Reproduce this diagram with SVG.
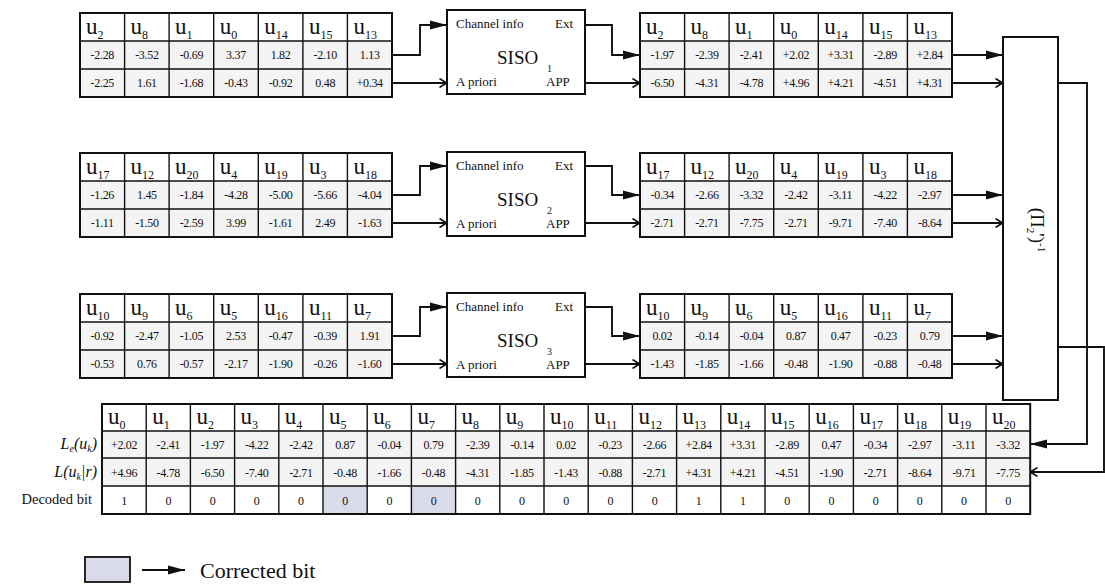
<svg xmlns="http://www.w3.org/2000/svg" xmlns:xlink="http://www.w3.org/1999/xlink" width="1105" height="586" viewBox="0 0 1105 586">
<style>
text{font-family:"Liberation Serif","Times New Roman",serif;fill:#111}
.h{font-size:23px}
.sb{font-size:12px}
.v{font-size:12px;text-anchor:middle;letter-spacing:-0.3px}
.sm{font-size:13px}
.ln{fill:none;stroke:#111;stroke-width:1.9}
.box{fill:#fff;stroke:#111;stroke-width:2}
.lab{font-size:16px;font-style:italic;text-anchor:end}
</style>
<defs>
<marker id="fa" viewBox="0 0 17 10" refX="17" refY="5" markerWidth="17" markerHeight="10" markerUnits="userSpaceOnUse" orient="auto"><path d="M0,0.5L17,5L0,9.5z" fill="#111"/></marker>
<marker id="oa" viewBox="0 0 8 10" refX="8" refY="5" markerWidth="8" markerHeight="10" markerUnits="userSpaceOnUse" orient="auto"><path d="M0.5,0.5L7.5,5L0.5,9.5" fill="none" stroke="#111" stroke-width="1.6"/></marker>
<g id="grid7">
<rect x="0" y="28" width="312" height="56" fill="#f4f4f4"/>
<path d="M44.6,0V84M89.1,0V84M133.7,0V84M178.3,0V84M222.9,0V84M267.4,0V84M0,28H312M0,56H312" fill="none" stroke="#111" stroke-width="1.4"/>
<rect x="0" y="0" width="312" height="84" fill="none" stroke="#111" stroke-width="2"/>
</g>
<g id="siso">
<rect class="box" x="0" y="0" width="138" height="84"/>
<text class="sm" x="9" y="18">Channel info</text>
<text class="sm" x="108" y="18">Ext</text>
<text class="sm" x="9" y="76">A priori</text>
<text class="sm" x="99" y="76">APP</text>
</g>
</defs>

<!-- Row 1 -->
<g id="t1in" transform="translate(80,13)">
<use xlink:href="#grid7"/>
<text class="h" x="6" y="21">u<tspan class="sb" dy="5">2</tspan></text>
<text class="h" x="50.6" y="21">u<tspan class="sb" dy="5">8</tspan></text>
<text class="h" x="95.1" y="21">u<tspan class="sb" dy="5">1</tspan></text>
<text class="h" x="139.7" y="21">u<tspan class="sb" dy="5">0</tspan></text>
<text class="h" x="184.3" y="21">u<tspan class="sb" dy="5">14</tspan></text>
<text class="h" x="228.9" y="21">u<tspan class="sb" dy="5">15</tspan></text>
<text class="h" x="273.4" y="21">u<tspan class="sb" dy="5">13</tspan></text>
<text class="v" x="22.3" y="46">-2.28</text><text class="v" x="66.9" y="46">-3.52</text><text class="v" x="111.4" y="46">-0.69</text><text class="v" x="156" y="46">3.37</text><text class="v" x="200.6" y="46">1.82</text><text class="v" x="245.2" y="46">-2.10</text><text class="v" x="289.7" y="46">1.13</text>
<text class="v" x="22.3" y="74">-2.25</text><text class="v" x="66.9" y="74">1.61</text><text class="v" x="111.4" y="74">-1.68</text><text class="v" x="156" y="74">-0.43</text><text class="v" x="200.6" y="74">-0.92</text><text class="v" x="245.2" y="74">0.48</text><text class="v" x="289.7" y="74">+0.34</text>
</g>
<g id="siso1" transform="translate(447,10)">
<use xlink:href="#siso"/>
<text x="50" y="54" font-size="19">SISO</text><text x="100" y="62" font-size="10">1</text>
</g>
<g id="t1out" transform="translate(640,13)">
<use xlink:href="#grid7"/>
<text class="h" x="6" y="21">u<tspan class="sb" dy="5">2</tspan></text>
<text class="h" x="50.6" y="21">u<tspan class="sb" dy="5">8</tspan></text>
<text class="h" x="95.1" y="21">u<tspan class="sb" dy="5">1</tspan></text>
<text class="h" x="139.7" y="21">u<tspan class="sb" dy="5">0</tspan></text>
<text class="h" x="184.3" y="21">u<tspan class="sb" dy="5">14</tspan></text>
<text class="h" x="228.9" y="21">u<tspan class="sb" dy="5">15</tspan></text>
<text class="h" x="273.4" y="21">u<tspan class="sb" dy="5">13</tspan></text>
<text class="v" x="22.3" y="46">-1.97</text><text class="v" x="66.9" y="46">-2.39</text><text class="v" x="111.4" y="46">-2.41</text><text class="v" x="156" y="46">+2.02</text><text class="v" x="200.6" y="46">+3.31</text><text class="v" x="245.2" y="46">-2.89</text><text class="v" x="289.7" y="46">+2.84</text>
<text class="v" x="22.3" y="74">-6.50</text><text class="v" x="66.9" y="74">-4.31</text><text class="v" x="111.4" y="74">-4.78</text><text class="v" x="156" y="74">+4.96</text><text class="v" x="200.6" y="74">+4.21</text><text class="v" x="245.2" y="74">-4.51</text><text class="v" x="289.7" y="74">+4.31</text>
</g>

<!-- Row 2 -->
<g id="t2in" transform="translate(80,153)">
<use xlink:href="#grid7"/>
<text class="h" x="6" y="21">u<tspan class="sb" dy="5">17</tspan></text>
<text class="h" x="50.6" y="21">u<tspan class="sb" dy="5">12</tspan></text>
<text class="h" x="95.1" y="21">u<tspan class="sb" dy="5">20</tspan></text>
<text class="h" x="139.7" y="21">u<tspan class="sb" dy="5">4</tspan></text>
<text class="h" x="184.3" y="21">u<tspan class="sb" dy="5">19</tspan></text>
<text class="h" x="228.9" y="21">u<tspan class="sb" dy="5">3</tspan></text>
<text class="h" x="273.4" y="21">u<tspan class="sb" dy="5">18</tspan></text>
<text class="v" x="22.3" y="46">-1.26</text><text class="v" x="66.9" y="46">1.45</text><text class="v" x="111.4" y="46">-1.84</text><text class="v" x="156" y="46">-4.28</text><text class="v" x="200.6" y="46">-5.00</text><text class="v" x="245.2" y="46">-5.66</text><text class="v" x="289.7" y="46">-4.04</text>
<text class="v" x="22.3" y="74">-1.11</text><text class="v" x="66.9" y="74">-1.50</text><text class="v" x="111.4" y="74">-2.59</text><text class="v" x="156" y="74">3.99</text><text class="v" x="200.6" y="74">-1.61</text><text class="v" x="245.2" y="74">2.49</text><text class="v" x="289.7" y="74">-1.63</text>
</g>
<g id="siso2" transform="translate(447,152)">
<use xlink:href="#siso"/>
<text x="50" y="54" font-size="19">SISO</text><text x="100" y="62" font-size="10">2</text>
</g>
<g id="t2out" transform="translate(640,153)">
<use xlink:href="#grid7"/>
<text class="h" x="6" y="21">u<tspan class="sb" dy="5">17</tspan></text>
<text class="h" x="50.6" y="21">u<tspan class="sb" dy="5">12</tspan></text>
<text class="h" x="95.1" y="21">u<tspan class="sb" dy="5">20</tspan></text>
<text class="h" x="139.7" y="21">u<tspan class="sb" dy="5">4</tspan></text>
<text class="h" x="184.3" y="21">u<tspan class="sb" dy="5">19</tspan></text>
<text class="h" x="228.9" y="21">u<tspan class="sb" dy="5">3</tspan></text>
<text class="h" x="273.4" y="21">u<tspan class="sb" dy="5">18</tspan></text>
<text class="v" x="22.3" y="46">-0.34</text><text class="v" x="66.9" y="46">-2.66</text><text class="v" x="111.4" y="46">-3.32</text><text class="v" x="156" y="46">-2.42</text><text class="v" x="200.6" y="46">-3.11</text><text class="v" x="245.2" y="46">-4.22</text><text class="v" x="289.7" y="46">-2.97</text>
<text class="v" x="22.3" y="74">-2.71</text><text class="v" x="66.9" y="74">-2.71</text><text class="v" x="111.4" y="74">-7.75</text><text class="v" x="156" y="74">-2.71</text><text class="v" x="200.6" y="74">-9.71</text><text class="v" x="245.2" y="74">-7.40</text><text class="v" x="289.7" y="74">-8.64</text>
</g>

<!-- Row 3 -->
<g id="t3in" transform="translate(80,294)">
<use xlink:href="#grid7"/>
<text class="h" x="6" y="21">u<tspan class="sb" dy="5">10</tspan></text>
<text class="h" x="50.6" y="21">u<tspan class="sb" dy="5">9</tspan></text>
<text class="h" x="95.1" y="21">u<tspan class="sb" dy="5">6</tspan></text>
<text class="h" x="139.7" y="21">u<tspan class="sb" dy="5">5</tspan></text>
<text class="h" x="184.3" y="21">u<tspan class="sb" dy="5">16</tspan></text>
<text class="h" x="228.9" y="21">u<tspan class="sb" dy="5">11</tspan></text>
<text class="h" x="273.4" y="21">u<tspan class="sb" dy="5">7</tspan></text>
<text class="v" x="22.3" y="46">-0.92</text><text class="v" x="66.9" y="46">-2.47</text><text class="v" x="111.4" y="46">-1.05</text><text class="v" x="156" y="46">2.53</text><text class="v" x="200.6" y="46">-0.47</text><text class="v" x="245.2" y="46">-0.39</text><text class="v" x="289.7" y="46">1.91</text>
<text class="v" x="22.3" y="74">-0.53</text><text class="v" x="66.9" y="74">0.76</text><text class="v" x="111.4" y="74">-0.57</text><text class="v" x="156" y="74">-2.17</text><text class="v" x="200.6" y="74">-1.90</text><text class="v" x="245.2" y="74">-0.26</text><text class="v" x="289.7" y="74">-1.60</text>
</g>
<g id="siso3" transform="translate(447,293)">
<use xlink:href="#siso"/>
<text x="50" y="54" font-size="19">SISO</text><text x="100" y="62" font-size="10">3</text>
</g>
<g id="t3out" transform="translate(640,294)">
<use xlink:href="#grid7"/>
<text class="h" x="6" y="21">u<tspan class="sb" dy="5">10</tspan></text>
<text class="h" x="50.6" y="21">u<tspan class="sb" dy="5">9</tspan></text>
<text class="h" x="95.1" y="21">u<tspan class="sb" dy="5">6</tspan></text>
<text class="h" x="139.7" y="21">u<tspan class="sb" dy="5">5</tspan></text>
<text class="h" x="184.3" y="21">u<tspan class="sb" dy="5">16</tspan></text>
<text class="h" x="228.9" y="21">u<tspan class="sb" dy="5">11</tspan></text>
<text class="h" x="273.4" y="21">u<tspan class="sb" dy="5">7</tspan></text>
<text class="v" x="22.3" y="46">0.02</text><text class="v" x="66.9" y="46">-0.14</text><text class="v" x="111.4" y="46">-0.04</text><text class="v" x="156" y="46">0.87</text><text class="v" x="200.6" y="46">0.47</text><text class="v" x="245.2" y="46">-0.23</text><text class="v" x="289.7" y="46">0.79</text>
<text class="v" x="22.3" y="74">-1.43</text><text class="v" x="66.9" y="74">-1.85</text><text class="v" x="111.4" y="74">-1.66</text><text class="v" x="156" y="74">-0.48</text><text class="v" x="200.6" y="74">-1.90</text><text class="v" x="245.2" y="74">-0.88</text><text class="v" x="289.7" y="74">-0.48</text>
</g>

<!-- Deinterleaver -->
<g id="deinterleaver">
<rect class="box" x="1003" y="37" width="55" height="363"/>
<text transform="translate(1031,230) rotate(90)" text-anchor="middle" font-size="19">(Π<tspan font-size="11" dy="4">2</tspan><tspan dy="-4">')</tspan><tspan font-size="11" dy="-7">-1</tspan></text>
</g>

<!-- Bottom table -->
<g id="result" transform="translate(102,404)">
<rect x="0" y="27" width="928.2" height="55" fill="#f4f4f4"/>
<rect x="221" y="82" width="44.2" height="28" fill="#d9dbea"/>
<rect x="309.4" y="82" width="44.2" height="28" fill="#d9dbea"/>
<path d="M44.2,0V110M88.4,0V110M132.6,0V110M176.8,0V110M221,0V110M265.2,0V110M309.4,0V110M353.6,0V110M397.8,0V110M442,0V110M486.2,0V110M530.4,0V110M574.6,0V110M618.8,0V110M663,0V110M707.2,0V110M751.4,0V110M795.6,0V110M839.8,0V110M884,0V110M0,27H928.2M0,54H928.2M0,82H928.2" fill="none" stroke="#111" stroke-width="1.4"/>
<rect x="0" y="0" width="928.2" height="110" fill="none" stroke="#111" stroke-width="2"/>
<text class="h" x="6" y="20">u<tspan class="sb" dy="5">0</tspan></text>
<text class="h" x="50.2" y="20">u<tspan class="sb" dy="5">1</tspan></text>
<text class="h" x="94.4" y="20">u<tspan class="sb" dy="5">2</tspan></text>
<text class="h" x="138.6" y="20">u<tspan class="sb" dy="5">3</tspan></text>
<text class="h" x="182.8" y="20">u<tspan class="sb" dy="5">4</tspan></text>
<text class="h" x="227" y="20">u<tspan class="sb" dy="5">5</tspan></text>
<text class="h" x="271.2" y="20">u<tspan class="sb" dy="5">6</tspan></text>
<text class="h" x="315.4" y="20">u<tspan class="sb" dy="5">7</tspan></text>
<text class="h" x="359.6" y="20">u<tspan class="sb" dy="5">8</tspan></text>
<text class="h" x="403.8" y="20">u<tspan class="sb" dy="5">9</tspan></text>
<text class="h" x="448" y="20">u<tspan class="sb" dy="5">10</tspan></text>
<text class="h" x="492.2" y="20">u<tspan class="sb" dy="5">11</tspan></text>
<text class="h" x="536.4" y="20">u<tspan class="sb" dy="5">12</tspan></text>
<text class="h" x="580.6" y="20">u<tspan class="sb" dy="5">13</tspan></text>
<text class="h" x="624.8" y="20">u<tspan class="sb" dy="5">14</tspan></text>
<text class="h" x="669" y="20">u<tspan class="sb" dy="5">15</tspan></text>
<text class="h" x="713.2" y="20">u<tspan class="sb" dy="5">16</tspan></text>
<text class="h" x="757.4" y="20">u<tspan class="sb" dy="5">17</tspan></text>
<text class="h" x="801.6" y="20">u<tspan class="sb" dy="5">18</tspan></text>
<text class="h" x="845.8" y="20">u<tspan class="sb" dy="5">19</tspan></text>
<text class="h" x="890" y="20">u<tspan class="sb" dy="5">20</tspan></text>
<g>
<text class="v" x="22.1" y="45">+2.02</text><text class="v" x="66.3" y="45">-2.41</text><text class="v" x="110.5" y="45">-1.97</text><text class="v" x="154.7" y="45">-4.22</text><text class="v" x="198.9" y="45">-2.42</text><text class="v" x="243.1" y="45">0.87</text><text class="v" x="287.3" y="45">-0.04</text><text class="v" x="331.5" y="45">0.79</text><text class="v" x="375.7" y="45">-2.39</text><text class="v" x="419.9" y="45">-0.14</text><text class="v" x="464.1" y="45">0.02</text><text class="v" x="508.3" y="45">-0.23</text><text class="v" x="552.5" y="45">-2.66</text><text class="v" x="596.7" y="45">+2.84</text><text class="v" x="640.9" y="45">+3.31</text><text class="v" x="685.1" y="45">-2.89</text><text class="v" x="729.3" y="45">0.47</text><text class="v" x="773.5" y="45">-0.34</text><text class="v" x="817.7" y="45">-2.97</text><text class="v" x="861.9" y="45">-3.11</text><text class="v" x="906.1" y="45">-3.32</text>
</g>
<g>
<text class="v" x="22.1" y="73">+4.96</text><text class="v" x="66.3" y="73">-4.78</text><text class="v" x="110.5" y="73">-6.50</text><text class="v" x="154.7" y="73">-7.40</text><text class="v" x="198.9" y="73">-2.71</text><text class="v" x="243.1" y="73">-0.48</text><text class="v" x="287.3" y="73">-1.66</text><text class="v" x="331.5" y="73">-0.48</text><text class="v" x="375.7" y="73">-4.31</text><text class="v" x="419.9" y="73">-1.85</text><text class="v" x="464.1" y="73">-1.43</text><text class="v" x="508.3" y="73">-0.88</text><text class="v" x="552.5" y="73">-2.71</text><text class="v" x="596.7" y="73">+4.31</text><text class="v" x="640.9" y="73">+4.21</text><text class="v" x="685.1" y="73">-4.51</text><text class="v" x="729.3" y="73">-1.90</text><text class="v" x="773.5" y="73">-2.71</text><text class="v" x="817.7" y="73">-8.64</text><text class="v" x="861.9" y="73">-9.71</text><text class="v" x="906.1" y="73">-7.75</text>
</g>
<g>
<text class="v" x="22.1" y="101">1</text><text class="v" x="66.3" y="101">0</text><text class="v" x="110.5" y="101">0</text><text class="v" x="154.7" y="101">0</text><text class="v" x="198.9" y="101">0</text><text class="v" x="243.1" y="101">0</text><text class="v" x="287.3" y="101">0</text><text class="v" x="331.5" y="101">0</text><text class="v" x="375.7" y="101">0</text><text class="v" x="419.9" y="101">0</text><text class="v" x="464.1" y="101">0</text><text class="v" x="508.3" y="101">0</text><text class="v" x="552.5" y="101">0</text><text class="v" x="596.7" y="101">1</text><text class="v" x="640.9" y="101">1</text><text class="v" x="685.1" y="101">0</text><text class="v" x="729.3" y="101">0</text><text class="v" x="773.5" y="101">0</text><text class="v" x="817.7" y="101">0</text><text class="v" x="861.9" y="101">0</text><text class="v" x="906.1" y="101">0</text>
</g>
</g>
<g id="row-labels">
<text class="lab" x="97" y="449">L<tspan font-size="10" dy="3">e</tspan><tspan dy="-3">(u</tspan><tspan font-size="10" dy="3">k</tspan><tspan dy="-3">)</tspan></text>
<text class="lab" x="97" y="477">L(u<tspan font-size="10" dy="3">k</tspan><tspan dy="-3">|r)</tspan></text>
<text x="92" y="504" font-size="14.5" text-anchor="end">Decoded bit</text>
</g>

<!-- Connectors -->
<g id="connectors" class="ln">
<path d="M392,55H420V25H447" marker-end="url(#fa)"/>
<path d="M392,83H447" marker-end="url(#oa)"/>
<path d="M585,25H612V55H640" marker-end="url(#fa)"/>
<path d="M585,83H640" marker-end="url(#oa)"/>
<path d="M952,55H1003" marker-end="url(#fa)"/>
<path d="M952,83H1003" marker-end="url(#oa)"/>
<path d="M392,195H420V166H447" marker-end="url(#fa)"/>
<path d="M392,223H447" marker-end="url(#oa)"/>
<path d="M585,166H612V195H640" marker-end="url(#fa)"/>
<path d="M585,223H640" marker-end="url(#oa)"/>
<path d="M952,195H1003" marker-end="url(#fa)"/>
<path d="M952,223H1003" marker-end="url(#oa)"/>
<path d="M392,336H420V307H447" marker-end="url(#fa)"/>
<path d="M392,364H447" marker-end="url(#oa)"/>
<path d="M585,307H612V336H640" marker-end="url(#fa)"/>
<path d="M585,364H640" marker-end="url(#oa)"/>
<path d="M952,336H1003" marker-end="url(#fa)"/>
<path d="M952,364H1003" marker-end="url(#oa)"/>
<path d="M1058,83H1087V444H1030" marker-end="url(#fa)"/>
<path d="M1058,347H1104V472H1030" marker-end="url(#oa)"/>
</g>

<!-- Legend -->
<g id="legend">
<rect x="85" y="557" width="45" height="25" fill="#d9dbea" stroke="#111" stroke-width="1.8"/>
<path class="ln" d="M142,570H185" marker-end="url(#fa)"/>
<text x="200" y="578" font-size="22">Corrected bit</text>
</g>
</svg>
